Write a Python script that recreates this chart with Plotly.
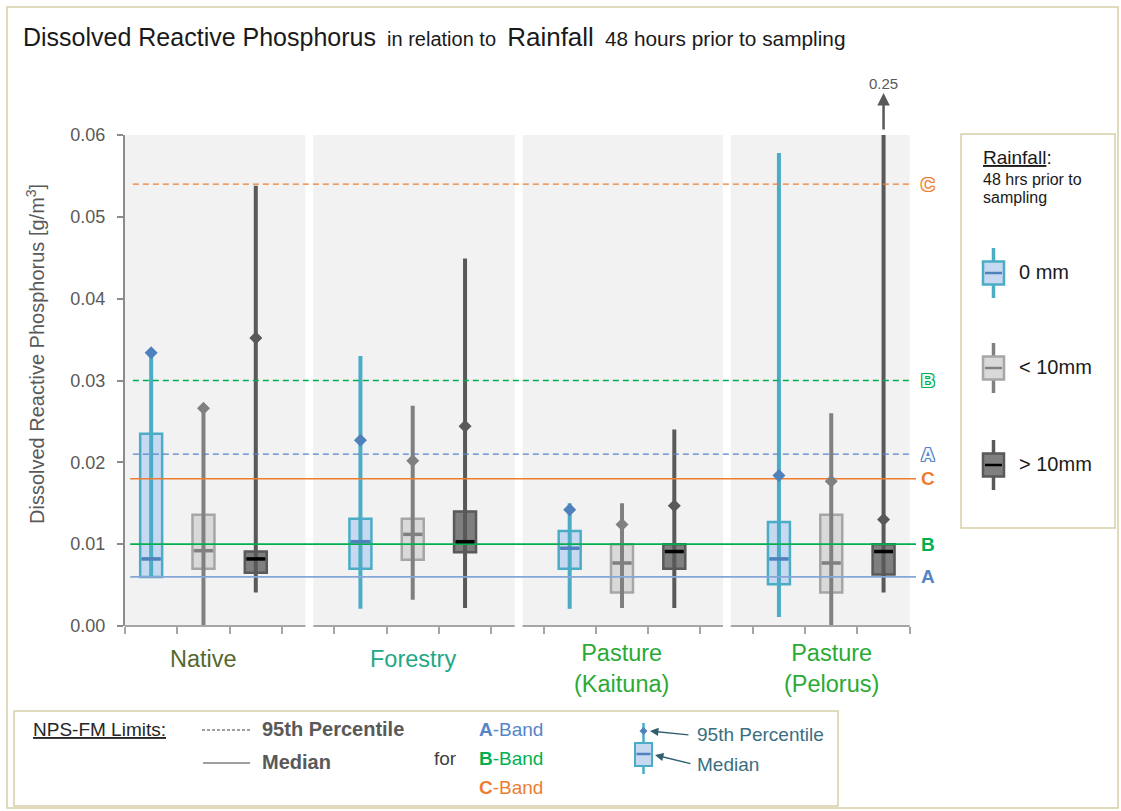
import plotly.graph_objects as go

# ---------------- data ----------------
sites = ["Native", "Forestry", "Pasture<br>(Kaituna)", "Pasture<br>(Pelorus)"]
site_colors = ["#56682c", "#1fa886", "#2aaa35", "#2aaa35"]
rain_classes = ["0 mm", "< 10mm", "> 10mm"]

# box statistics per rainfall class, one value per site  [g/m3]
low_0 = [0.0060, 0.0021, 0.0021, 0.0011]
q1_0 = [0.0060, 0.0070, 0.0070, 0.0051]
med_0 = [0.0082, 0.0103, 0.0095, 0.0082]
q3_0 = [0.0235, 0.0131, 0.0116, 0.0127]
high_0 = [0.0335, 0.0330, 0.0150, 0.0578]
p95_0 = [0.0334, 0.0227, 0.0142, 0.0184]

low_lt10 = [0.0000, 0.0032, 0.0022, 0.0000]
q1_lt10 = [0.0070, 0.0081, 0.0041, 0.0041]
med_lt10 = [0.0092, 0.0112, 0.0077, 0.0077]
q3_lt10 = [0.0136, 0.0131, 0.0100, 0.0136]
high_lt10 = [0.0267, 0.0269, 0.0150, 0.0260]
p95_lt10 = [0.0266, 0.0202, 0.0124, 0.0177]

low_gt10 = [0.0041, 0.0022, 0.0022, 0.0041]
q1_gt10 = [0.0065, 0.0090, 0.0070, 0.0063]
med_gt10 = [0.0082, 0.0103, 0.0091, 0.0091]
q3_gt10 = [0.0091, 0.0140, 0.0100, 0.0100]
high_gt10 = [0.0538, 0.0449, 0.0240, 0.25]
p95_gt10 = [0.0352, 0.0244, 0.0147, 0.0130]

# NPS-FM band limits
bands = ["A", "B", "C"]
band_median = [0.006, 0.010, 0.018]
band_p95 = [0.021, 0.030, 0.054]

y_ticks = [0.00, 0.01, 0.02, 0.03, 0.04, 0.05, 0.06]

# ---------------- styling ----------------
FONT = "Liberation Sans, Arial, sans-serif"
band_col = {"A": "#5584c9", "B": "#00b050", "C": "#ed7d31"}
band_line_solid = {"A": "#86a6d8", "B": "#00b050", "C": "#ed7d31"}

styles = [
    dict(fill="#c6d9f1", edge="#4bacc6", med="#4f81bd", whisk="#4bacc6", dot="#4f81bd"),
    dict(fill="#d9d9d9", edge="#a6a6a6", med="#808080", whisk="#808080", dot="#808080"),
    dict(fill="#7f7f7f", edge="#595959", med="#000000", whisk="#595959", dot="#595959"),
]
stats = [
    (low_0, q1_0, med_0, q3_0, high_0, p95_0),
    (low_lt10, q1_lt10, med_lt10, q3_lt10, high_lt10, p95_lt10),
    (low_gt10, q1_gt10, med_gt10, q3_gt10, high_gt10, p95_gt10),
]

GROUP_STEP = 4
X_MIN, X_MAX = -0.5, 14.62
Y_MAX = 0.06
BOX_W = 0.42

# plot-area pixel frame used for decorations outside the axes
L, R, T, B = 125, 916, 135, 626
W, H = R - L, B - T


def X(p):
    return (p - L) / W


def Y(p):
    return (B - p) / H


def label(x, y, text, size, color, xanchor="left", **kw):
    """Text placed in page pixels, anchored at its vertical middle."""
    return dict(x=X(x), y=Y(y), xref="paper", yref="paper", text=text, showarrow=False,
                xanchor=xanchor, yanchor="middle",
                font=dict(family=FONT, size=size, color=color), **kw)


fig = go.Figure()

# whiskers (under boxes)
for k, (lo, q1, md, q3, hi, p95) in enumerate(stats):
    xs, ys = [], []
    for g in range(len(sites)):
        pos = GROUP_STEP * g + k
        xs += [pos, pos, None]
        ys += [lo[g], hi[g], None]
    fig.add_trace(go.Scatter(x=xs, y=ys, mode="lines", hoverinfo="skip",
                             line=dict(color=styles[k]["whisk"], width=4),
                             showlegend=False))

# boxes
for k, (lo, q1, md, q3, hi, p95) in enumerate(stats):
    pos = [GROUP_STEP * g + k for g in range(len(sites))]
    fig.add_trace(go.Box(
        x=pos, q1=q1, median=md, q3=q3, lowerfence=q1, upperfence=q3,
        width=BOX_W, whiskerwidth=0, boxpoints=False,
        fillcolor=styles[k]["fill"],
        line=dict(color=styles[k]["edge"], width=2.5),
        name=rain_classes[k], showlegend=False))

# NPS-FM limit lines
for i, b in enumerate(bands):
    fig.add_trace(go.Scatter(x=[-0.4, X_MAX], y=[band_median[i]] * 2, mode="lines",
                             line=dict(color=band_line_solid[b], width=1.6),
                             hoverinfo="skip", showlegend=False))
    fig.add_trace(go.Scatter(x=[-0.35, 14.54], y=[band_p95[i]] * 2, mode="lines",
                             line=dict(color=band_col[b], width=1.4, dash="6px,4px"),
                             hoverinfo="skip", showlegend=False))

# medians and 95th percentiles
for k, (lo, q1, md, q3, hi, p95) in enumerate(stats):
    xs, ys = [], []
    for g in range(len(sites)):
        pos = GROUP_STEP * g + k
        xs += [pos - BOX_W / 2 + 0.03, pos + BOX_W / 2 - 0.03, None]
        ys += [md[g], md[g], None]
    fig.add_trace(go.Scatter(x=xs, y=ys, mode="lines", hoverinfo="skip",
                             line=dict(color=styles[k]["med"], width=3.5),
                             showlegend=False))
    fig.add_trace(go.Scatter(
        x=[GROUP_STEP * g + k for g in range(len(sites))], y=p95, mode="markers",
        marker=dict(symbol="diamond", size=10, color=styles[k]["dot"]),
        hoverinfo="skip", showlegend=False))

shapes = []
annotations = []

# panel backgrounds and baseline segments
panel_spans = [(-0.5, 2.95), (3.1, 6.95), (7.1, 10.93), (11.08, 14.5)]
for x0, x1 in panel_spans:
    shapes.append(dict(type="rect", xref="x", yref="paper", x0=x0, x1=x1, y0=0, y1=1,
                       fillcolor="#f2f2f2", line=dict(width=0), layer="below"))
    shapes.append(dict(type="line", xref="x", yref="paper", x0=x0, x1=x1, y0=0, y1=0,
                       line=dict(color="#a6a6a6", width=2)))

# site labels
for g, s in enumerate(sites):
    two = "<br>" in s
    annotations.append(dict(x=GROUP_STEP * g + 1, y=Y(668 if two else 659),
                            xref="x", yref="paper", text=s, showarrow=False,
                            xanchor="center", yanchor="middle",
                            font=dict(family=FONT, size=23.5, color=site_colors[g])))

# values beyond the axis: arrow + value label
for k, (lo, q1, md, q3, hi, p95) in enumerate(stats):
    for g in range(len(sites)):
        if hi[g] > Y_MAX:
            pos = GROUP_STEP * g + k
            annotations.append(dict(x=pos, y=Y(93), xref="x", yref="paper", ax=0, ay=38,
                                    text="", showarrow=True, arrowhead=2, arrowsize=1,
                                    arrowwidth=2.5, arrowcolor="#595959"))
            annotations.append(dict(x=pos, y=Y(83), xref="x", yref="paper",
                                    xanchor="center", yanchor="middle",
                                    text=f"{hi[g]:.2f}", showarrow=False,
                                    font=dict(family=FONT, size=15, color="#595959")))

# band letters at the right end of the limit lines
for i, b in enumerate(bands):
    annotations.append(dict(x=X(928), y=band_median[i], xref="paper", yref="y",
                            xanchor="center", yanchor="middle",
                            text=f"<b>{b}</b>", showarrow=False,
                            font=dict(family=FONT, size=19, color=band_col[b])))
    outline = ", ".join(f"{dx}px {dy}px 0 {band_col[b]}"
                        for dx, dy in [(1, 0), (-1, 0), (0, 1), (0, -1),
                                       (1, 1), (-1, -1), (1, -1), (-1, 1)])
    annotations.append(dict(x=X(928), y=band_p95[i], xref="paper", yref="y",
                            xanchor="center", yanchor="middle",
                            text=f"<b>{b}</b>", showarrow=False,
                            font=dict(family=FONT, size=19,
                                      color="#fdf3ec" if b == "C" else "#f4f8f4",
                                      shadow=outline)))

# y-axis title
annotations.append(label(35, 354, "Dissolved Reactive Phosphorus [g/m<sup>3</sup>]",
                         20, "#595959", xanchor="center", textangle=-90))

# chart title
annotations.append(label(
    21, 37,
    ("<span style='font-size:25px'>Dissolved Reactive Phosphorus</span>"
     "&nbsp;&nbsp;in relation to&nbsp;&nbsp;"
     "<span style='font-size:26px'>Rainfall</span>"
     "&nbsp;&nbsp;<span style='font-size:20.8px'>48 hours prior to sampling</span>"),
    20, "#1a1a1a"))

# outer frame
shapes.append(dict(type="rect", xref="paper", yref="paper", x0=X(7), x1=X(1118),
                   y0=Y(808), y1=Y(7), line=dict(color="#d6cfa8", width=1.5)))

# ---- rainfall legend (right) ----
shapes.append(dict(type="rect", xref="paper", yref="paper", x0=X(961), x1=X(1115),
                   y0=Y(528), y1=Y(134), line=dict(color="#d6cfa8", width=1.5),
                   fillcolor="white"))
annotations.append(label(981, 157, "<u>Rainfall</u>:", 19, "#1a1a1a"))
annotations.append(label(981, 179, "48 hrs prior to", 16, "#1a1a1a"))
annotations.append(label(981, 197, "sampling", 16, "#1a1a1a"))
for k, cy in enumerate([273, 368, 465]):
    st = styles[k]
    cx = 993.5
    shapes.append(dict(type="line", xref="paper", yref="paper", x0=X(cx), x1=X(cx),
                       y0=Y(cy - 25), y1=Y(cy + 25), line=dict(color=st["whisk"], width=3.5)))
    shapes.append(dict(type="rect", xref="paper", yref="paper", x0=X(cx - 10.5), x1=X(cx + 10.5),
                       y0=Y(cy + 11.5), y1=Y(cy - 11.5), fillcolor=st["fill"],
                       line=dict(color=st["edge"], width=2.5)))
    shapes.append(dict(type="line", xref="paper", yref="paper", x0=X(cx - 8.5), x1=X(cx + 8.5),
                       y0=Y(cy), y1=Y(cy), line=dict(color=st["med"], width=2.5)))
    annotations.append(label(1017, cy - 1, rain_classes[k], 20, "#1a1a1a"))

# ---- limits legend (bottom) ----
shapes.append(dict(type="rect", xref="paper", yref="paper", x0=X(14), x1=X(838),
                   y0=Y(806), y1=Y(711), line=dict(color="#d6cfa8", width=1.5)))
annotations.append(label(31, 729, "<u>NPS-FM Limits:</u>", 19, "#262626"))
shapes.append(dict(type="line", xref="paper", yref="paper", x0=X(202), x1=X(250),
                   y0=Y(730), y1=Y(730), line=dict(color="#404040", width=1.2, dash="3px,2px")))
shapes.append(dict(type="line", xref="paper", yref="paper", x0=X(203), x1=X(250),
                   y0=Y(763), y1=Y(763), line=dict(color="#404040", width=1.2)))
annotations.append(label(260, 729, "<b>95th Percentile</b>", 20, "#595959"))
annotations.append(label(260, 762, "<b>Median</b>", 20, "#595959"))
annotations.append(label(432, 758, "for", 19, "#404040"))
for i, b in enumerate(bands):
    annotations.append(label(477, 729 + 29 * i, f"<b>{b}</b>-Band", 19, band_col[b]))

# explanatory box icon
st = styles[0]
icx = 643.5
shapes.append(dict(type="line", xref="paper", yref="paper", x0=X(icx), x1=X(icx),
                   y0=Y(774), y1=Y(723), line=dict(color=st["whisk"], width=2.5)))
shapes.append(dict(type="rect", xref="paper", yref="paper", x0=X(icx - 8.5), x1=X(icx + 8.5),
                   y0=Y(766), y1=Y(743), fillcolor=st["fill"],
                   line=dict(color=st["edge"], width=2)))
shapes.append(dict(type="line", xref="paper", yref="paper", x0=X(icx - 7), x1=X(icx + 7),
                   y0=Y(754), y1=Y(754), line=dict(color=st["med"], width=2.5)))
d = 4
shapes.append(dict(type="path", xref="paper", yref="paper",
                   path=(f"M {X(icx)} {Y(731 - d)} L {X(icx + d)} {Y(731)} "
                         f"L {X(icx)} {Y(731 + d)} L {X(icx - d)} {Y(731)} Z"),
                   fillcolor=st["dot"], line=dict(width=0)))
arrow_col = "#2f5f6f"
annotations.append(dict(x=X(650), y=Y(731), xref="paper", yref="paper", ax=40, ay=4,
                        text="", showarrow=True, arrowhead=2, arrowsize=1.2,
                        arrowwidth=1.4, arrowcolor=arrow_col))
annotations.append(dict(x=X(655), y=Y(755), xref="paper", yref="paper", ax=37, ay=9,
                        text="", showarrow=True, arrowhead=2, arrowsize=1.2,
                        arrowwidth=1.4, arrowcolor=arrow_col))
annotations.append(label(695, 734, "95th Percentile", 19, "#3a6f80"))
annotations.append(label(695, 764, "Median", 19, "#3a6f80"))

tick_pos = []
for g in range(len(sites)):
    tick_pos += [GROUP_STEP * g - 0.5 + j for j in range(4)]

fig.update_layout(
    width=1121, height=811,
    margin=dict(l=L, r=1121 - R, t=T, b=811 - B),
    paper_bgcolor="white", plot_bgcolor="white",
    font=dict(family=FONT, color="#595959"),
    boxmode="overlay",
    showlegend=False,
    xaxis=dict(range=[X_MIN, X_MAX], tickvals=tick_pos, showticklabels=False,
               ticks="outside", ticklen=7, tickwidth=1.5, tickcolor="#a6a6a6",
               showgrid=False, zeroline=False, showline=False),
    yaxis=dict(range=[0, Y_MAX], tickvals=y_ticks, tickformat=".2f",
               ticks="outside", ticklen=6, tickwidth=1.5, tickcolor="#8c8c8c",
               showline=True, linecolor="#8c8c8c", linewidth=2,
               showgrid=False, zeroline=False, ticklabelstandoff=8,
               tickfont=dict(family=FONT, size=18, color="#595959")),
    shapes=shapes,
    annotations=annotations,
)

fig.write_html("out.html")
